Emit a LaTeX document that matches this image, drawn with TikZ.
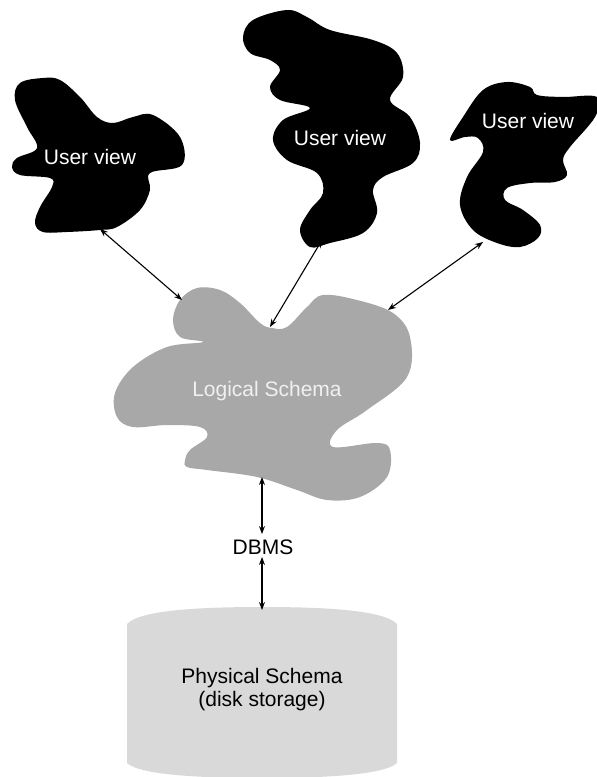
\documentclass[tikz,border=0pt]{standalone}
\usepackage{fontspec}
\setmainfont{Liberation Sans}
\usetikzlibrary{arrows.meta}
\definecolor{logicgray}{HTML}{A8A8A8}
\definecolor{diskgray}{HTML}{D9D9D9}
\tikzset{
  link/.style={{Stealth[length=8pt,width=6pt]}-{Stealth[length=8pt,width=6pt]}, line width=1.1pt, black},
  blobtext/.style={font=\fontsize{21}{25}\selectfont, text=white},
  plaintext/.style={font=\fontsize{21}{23}\selectfont, text=black, align=center},
}
\begin{document}
\begin{tikzpicture}[x=1pt,y=-1pt]
\useasboundingbox (0,0) rectangle (597,777);
% user view 1
\fill[black] plot[smooth cycle, tension=0.6] coordinates {
 (43,78) (60,80) (80,97) (97,117) (113,123) (133,117) (153,115) (180,137) (182,165)
 (150,173) (150,190) (140,210) (117,227) (100,230) (67,232) (43,232) (35,223) (40,207)
 (52,187) (50,178) (20,175) (12,167) (17,158) (37,148) (27,127) (15,100) (20,83)};
% user view 2
\fill[black] plot[smooth cycle, tension=0.6] coordinates {
 (253,20) (287,10) (307,17) (330,30) (373,40) (397,53) (403,77) (390,100) (410,117)
 (420,143) (413,163) (383,177) (373,190) (377,213) (363,233) (330,243) (310,247)
 (300,230) (310,210) (323,193) (317,173) (287,160) (273,140) (283,120) (310,108)
 (280,100) (270,87) (280,70) (270,60) (250,53) (243,37)};
% user view 3
\fill[black] plot[smooth cycle, tension=0.6] coordinates {
 (450,140) (463,117) (483,90) (507,82) (530,87) (537,95) (563,97) (597,97) (595,117)
 (570,147) (563,160) (567,175) (555,182) (530,183) (507,188) (505,200) (523,210)
 (540,225) (538,238) (520,247) (497,243) (473,230) (460,205) (467,177) (483,152)
 (478,138) (465,137)};
% logical schema
\fill[logicgray] plot[smooth cycle, tension=0.6] coordinates {
 (180,300) (197,288) (220,290) (240,303) (260,323) (272,328) (287,327) (307,307)
 (323,295) (357,300) (393,313) (410,337) (407,377) (367,410) (337,430) (333,447)
 (377,443) (390,450) (387,477) (360,497) (327,500) (297,490) (257,477) (207,470)
 (187,467) (185,460) (190,450) (207,437) (200,427) (167,425) (133,427) (117,417)
 (115,393) (133,367) (167,347) (203,342) (180,337) (173,320)};
% physical schema cylinder
\fill[diskgray] (127,763) -- (127,624) .. controls (140,610) and (200,607) .. (262,607)
  .. controls (324,607) and (384,610) .. (397,624) -- (397,763)
  .. controls (384,775) and (324,778) .. (262,778) .. controls (200,778) and (140,775) .. (127,763) -- cycle;

\node[blobtext] (uv1) at (90,157) {User view};
\node[blobtext] (uv2) at (340,138) {User view};
\node[blobtext] (uv3) at (528,121) {User view};
\node[blobtext, text=white!94!black] (ls) at (267,391) {Logical Schema};
\node[plaintext] (dbms) at (263,547) {DBMS};
\node[plaintext] (ps) at (262,690) {Physical Schema\\(disk storage)};

\coordinate (uv1b) at (100,229);
\coordinate (ls1) at (182,300);
\coordinate (uv2b) at (322,240);
\coordinate (ls2) at (270,327);
\coordinate (uv3b) at (483,242);
\coordinate (ls3) at (388,310);
\coordinate (lsb) at (262,477);
\coordinate (dbt) at (262,534);
\coordinate (dbb) at (262,557);
\coordinate (pst) at (262,610);

\draw[link] (uv1b) -- (ls1);
\draw[link] (uv2b) -- (ls2);
\draw[link] (uv3b) -- (ls3);
\draw[link] (lsb) -- (dbt);
\draw[link] (dbb) -- (pst);
\end{tikzpicture}
\end{document}
